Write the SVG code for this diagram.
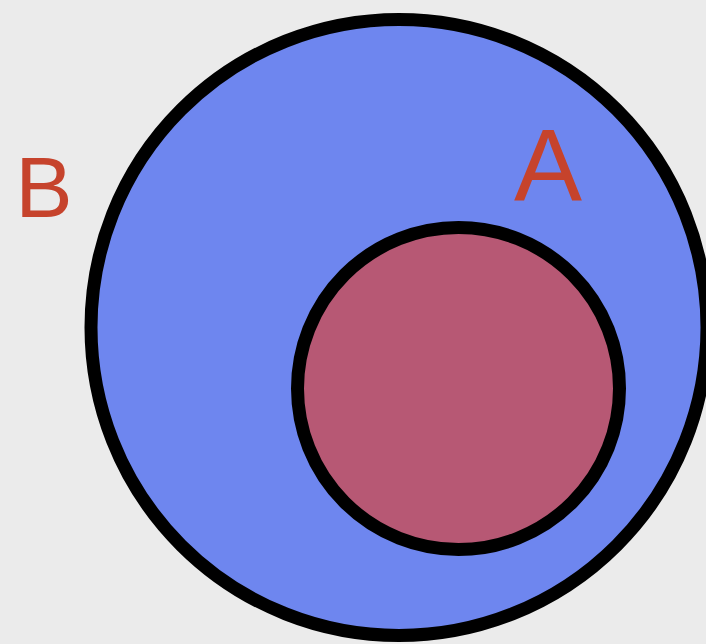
<svg xmlns="http://www.w3.org/2000/svg" width="706" height="644" viewBox="0 0 706 644">
<style>
.lbl{font-family:"Liberation Sans",Arial,sans-serif;fill:#c6432c;text-anchor:middle}
.ring{stroke:#000;stroke-width:13}
</style>
<rect width="706" height="644" fill="#ebebeb"/>
<g id="B">
<circle class="ring" cx="399" cy="327.5" r="308" fill="#6e86ef"/>
<text class="lbl" x="44" y="217" font-size="86">B</text>
</g>
<g id="A">
<circle class="ring" cx="458.5" cy="388.5" r="161" fill="#b75874"/>
<text class="lbl" x="548" y="201" font-size="102">A</text>
</g>
<g id="connectors"/>
</svg>
